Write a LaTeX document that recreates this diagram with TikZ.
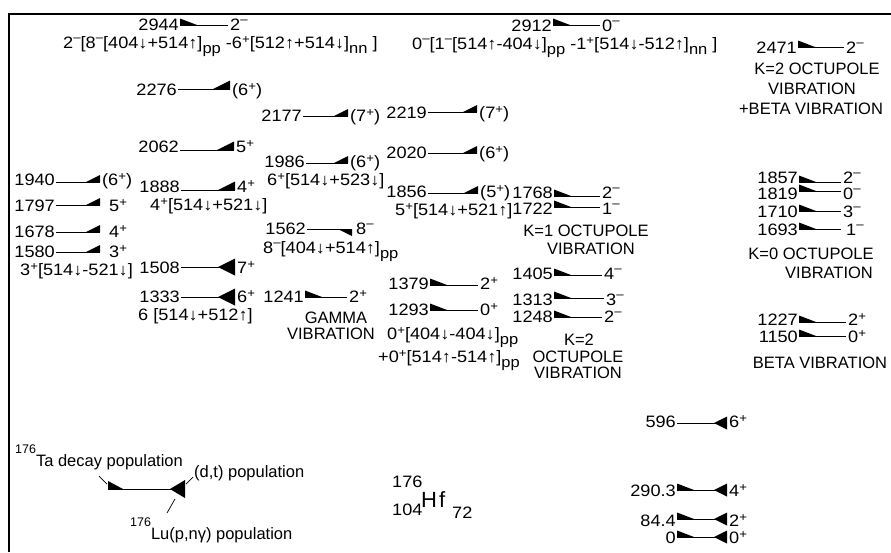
\documentclass[tikz,border=0pt]{standalone}
\usepackage{fontspec}
\setmainfont{Liberation Sans}
\newfontfamily\wide{Liberation Sans}[FakeStretch=1.1]
\newcommand\up[1]{\raisebox{0.3em}{\fontsize{12}{12}\selectfont #1}}
\newcommand\um{\raisebox{0.42em}{\fontsize{12}{12}\selectfont –}}
\newcommand\dn[1]{\raisebox{-0.32em}{\fontsize{15}{15}\selectfont #1}}
\newcommand\arD{↓}
\newcommand\arU{↑}
\def\lw{17}\def\lh{6.5}
\def\mw{15}\def\mh{7.5}
\newcommand\mkL[1]{\fill (#1a) -- ++(0,-\lh) -- ++(\lw,\lh) -- cycle;}
\newcommand\mkU[1]{\fill (#1b) -- ++(0,-\mh) -- ++(-\mw,\mh) -- cycle;}
\newcommand\mkD[1]{\fill (#1b) -- ++(0,\mh) -- ++(-\mw,-\mh) -- cycle;}
\newcommand\lvl[8]{%
  \coordinate (#1a) at (#2,#4);
  \coordinate (#1b) at (#3,#4);
  \draw[lvl] (#1a) -- (#1b);
  \node[elab,yshift=-#8pt] (#1e) at (#1a) {#5};
  \node[slab,yshift=-#8pt] (#1s) at (#1b) {#6};
  #7}
\tikzset{
  lvl/.style={line width=0.9pt},
  num/.style={font=\wide\fontsize{16.5}{20}\selectfont},
  elab/.style={num, anchor=base east, inner sep=0pt, xshift=-1pt},
  slab/.style={num, anchor=base west, inner sep=0pt, xshift=2pt},
  txt/.style={num, anchor=base west, inner sep=0pt},
  ctxt/.style={anchor=base, inner sep=0pt},
  lead/.style={line width=0.7pt},
}
\begin{document}
\begin{tikzpicture}[x=1pt,y=-1pt,every node/.style={font=\fontsize{16.5}{20}\selectfont}]
\useasboundingbox (0,0) rectangle (891,552);
\fill[white] (0,0) rectangle (891,552);
% frame
\coordinate (fr1) at (9,552); \coordinate (fr2) at (9,14); \coordinate (fr3) at (891,14);
\draw[line width=1.1pt] (fr1) -- (fr2) -- (fr3);

% column A
\def\mw{17}\def\mh{8.5}
\lvl{a}{180}{228}{25}{2944}{2\um}{\mkL{a}}{5}
\lvl{b}{178}{230}{89}{2276}{(6\up{+})}{\mkU{b}}{6}
\lvl{c}{180}{234}{150}{2062}{5\up{+}}{\mkU{c}}{2}
\lvl{d}{181}{235}{190}{1888}{4\up{+}}{\mkU{d}}{2}
\lvl{e}{181}{235}{267}{1508}{7\up{+}}{\mkU{e}\mkD{e}}{6}
\lvl{f}{181}{235}{297}{1333}{6\up{+}}{\mkU{f}\mkD{f}}{5}
% column B
\def\mw{14}\def\mh{7}
\lvl{g}{56}{100}{182}{1940}{(6\up{+})}{\mkU{g}}{3}
\lvl{h}{56}{100}{205}{1797}{\hspace{7pt}5\up{+}}{\mkU{h}}{6}
\lvl{i}{56}{100}{232}{1678}{\hspace{7pt}4\up{+}}{\mkU{i}}{5}
\lvl{j}{56}{100}{252}{1580}{\hspace{7pt}3\up{+}}{\mkU{j}}{5}
% column C
\lvl{k}{303}{348}{116}{2177}{(7\up{+})}{\mkU{k}}{5}
\lvl{l}{306}{348}{163}{1986}{(6\up{+})}{\mkU{l}}{4}
\lvl{m}{307}{352}{229}{1562}{\hspace{2pt}8\um}{\mkD{m}}{5}
\lvl{n}{305}{347}{297}{1241}{2\up{+}}{\mkL{n}}{5}
% column D
\lvl{o}{428}{477}{112}{2219}{(7\up{+})}{\mkU{o}}{6}
\lvl{p}{428}{477}{153}{2020}{(6\up{+})}{\mkU{p}}{5}
\lvl{q}{428}{478}{193}{1856}{(5\up{+})}{\mkU{q}}{4}
\lvl{r}{430}{478}{285}{1379}{2\up{+}}{\mkL{r}}{4}
\lvl{s}{430}{478}{310}{1293}{0\up{+}}{\mkL{s}}{5}
% column E
\lvl{t}{553}{600}{25}{2912}{0\um}{\mkL{t}}{6}
\lvl{u}{554}{600}{196}{1768}{2\um}{\mkL{u}}{2}
\lvl{v}{554}{600}{207}{1722}{1\um}{\mkL{v}}{7}
\lvl{w}{554}{602}{275}{1405}{4\um}{\mkL{w}}{4}
\lvl{x}{554}{604}{298}{1313}{3\um}{\mkL{x}}{7}
\lvl{y}{554}{602}{317}{1248}{2\um}{\mkL{y}}{5}
% column F
\lvl{z}{798}{844}{47}{2471}{2\um}{\mkL{z}}{6}
\lvl{aa}{799}{841}{182}{1857}{2\um}{\mkL{aa}}{1}
\lvl{ab}{799}{841}{191}{1819}{0\um}{\mkL{ab}}{8}
\lvl{ac}{799}{841}{211}{1710}{3\um}{\mkL{ac}}{6}
\lvl{ad}{799}{841}{229}{1693}{\hspace{3pt}1\um}{\mkL{ad}}{6}
\lvl{ae}{799}{846}{322}{1227}{2\up{+}}{\mkL{ae}}{3}
\lvl{af}{799}{846}{336}{1150}{0\up{+}}{\mkL{af}}{6}
% column G
\def\mw{13}\def\mh{6.5}
\lvl{ag}{677}{727}{423}{596}{6\up{+}}{\mkU{ag}\mkD{ag}}{4}
\lvl{ah}{677}{727}{490}{290.3}{4\up{+}}{\mkL{ah}\mkU{ah}\mkD{ah}}{6}
\lvl{ai}{677}{727}{519}{84.4}{2\up{+}}{\mkL{ai}\mkU{ai}\mkD{ai}}{7}
\lvl{aj}{677}{727}{537}{0}{0\up{+}}{\mkL{aj}\mkU{aj}\mkD{aj}}{6}

% configuration texts
\node[txt] (f2944) at (63,48) {2\um[8\um[404\arD+514\arU]\dn{pp} -6\up{+}[512\arU+514\arD]\dn{nn} ]};
\node[txt] (f2912) at (412,49) {0\um[1\um[514\arU-404\arD]\dn{pp} -1\up{+}[514\arD-512\arU]\dn{nn} ]};
\node[ctxt] (k2a) at (817,74) {K=2 OCTUPOLE};
\node[ctxt] (k2b) at (812,94) {VIBRATION};
\node[ctxt] (k2c) at (811,114) {+BETA VIBRATION};
\node[txt] (f1986) at (267,185) {6\up{+}[514\arD+523\arD]};
\node[txt] (f1888) at (150,210) {4\up{+}[514\arD+521\arD]};
\node[txt] (f1580) at (20,275) {3\up{+}[514\arD-521\arD]};
\node[txt] (f1856) at (395,215) {5\up{+}[514\arD+521\arU]};
\node[ctxt] (k1a) at (586,236) {K=1 OCTUPOLE};
\node[ctxt] (k1b) at (591,254) {VIBRATION};
\node[ctxt] (k0a) at (811,259) {K=0 OCTUPOLE};
\node[ctxt] (k0b) at (829,278) {VIBRATION};
\node[txt] (f1562) at (263,253) {8\um[404\arD+514\arU]\dn{pp}};
\node[txt] (f1333) at (138,320) {6 [514\arD+512\arU]};
\node[ctxt] (gama) at (336,323) {GAMMA};
\node[ctxt] (gamb) at (331,339) {VIBRATION};
\node[txt] (f1293a) at (387,339) {0\up{+}[404\arD-404\arD]\dn{pp}};
\node[txt] (f1293b) at (378,362) {+0\up{+}[514\arU-514\arU]\dn{pp}};
\node[ctxt] (k2oa) at (579,345) {K=2};
\node[ctxt] (k2ob) at (578,362) {OCTUPOLE};
\node[ctxt] (k2oc) at (578,378) {VIBRATION};
\node[ctxt] (beta) at (820,368) {BETA VIBRATION};

% legend
\coordinate (legA) at (108,489);
\coordinate (legB) at (185,489);
\draw[lvl] (legA) -- (legB);
\fill (legA) -- ++(0,-8) -- ++(15,8) -- cycle;
\fill (legB) -- ++(0,-9) -- ++(-15,9) -- ++(15,9) -- cycle;
\node[anchor=base west, inner sep=0pt] (ta) at (15,466) {\raisebox{13pt}{\fontsize{12.5}{12.5}\selectfont 176}Ta decay population};
\node[anchor=base west, inner sep=0pt] (dt) at (194,477) {(d,t) population};
\node[anchor=base west, inner sep=0pt] (lu) at (130,539) {\raisebox{13pt}{\fontsize{12.5}{12.5}\selectfont 176}Lu(p,nγ) population};
\coordinate (taA) at (99,476); \coordinate (taB) at (107,484);
\coordinate (dtA) at (193,477); \coordinate (dtB) at (186,484);
\coordinate (luA) at (167,513); \coordinate (luB) at (175,499);
\draw[lead] (taA) -- (taB);
\draw[lead] (dtA) -- (dtB);
\draw[lead] (luA) -- (luB);

% nuclide
\node[txt] (hfA) at (392,487) {176};
\node[txt] (hfZ) at (392,515) {104};
\node[anchor=base west, inner sep=0pt, font=\fontsize{22}{22}\selectfont] (hf) at (421,507) {H\hspace{2pt}f};
\node[txt] (hfN) at (452,518) {72};
\end{tikzpicture}
\end{document}
